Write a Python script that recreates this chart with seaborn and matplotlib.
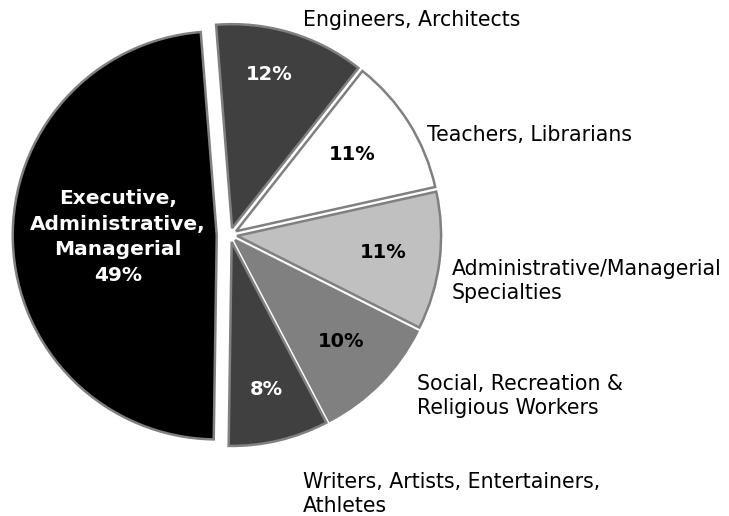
import matplotlib
matplotlib.use("Agg")
import matplotlib.pyplot as plt
import seaborn as sns

sns.set_theme(style="white")
plt.rcParams["font.family"] = ["DejaVu Sans"]

# Occupational groups, shares in percent (counter-clockwise from the top)
categories = [
    "Executive,\nAdministrative,\nManagerial",
    "Writers, Artists, Entertainers,\nAthletes",
    "Social, Recreation &\nReligious Workers",
    "Administrative/Managerial\nSpecialties",
    "Teachers, Librarians",
    "Engineers, Architects",
]
shares = [49, 8, 10, 11, 11, 12]

fills = ["#000000", "#404040", "#808080", "#c0c0c0", "#ffffff", "#404040"]
pct_colors = ["white", "white", "black", "black", "black", "white"]
explode = [0.065, 0.035, 0.035, 0.035, 0.035, 0.035]

# Label placement in pixels (x from left, y from top) on a 729x516 canvas
outer_pos = [None, (303, 494), (417, 396), (452, 281), (427, 135), (303, 20)]
inner_pos = [(118, 237), (266, 390), (341, 342), (383, 253), (352, 155), (269, 75)]

W, H = 729, 516
R = 204.0            # pixels per data unit (pie radius)
CX, CY = 230, 235    # pie centre in pixels

def to_data(p):
    return ((p[0] - CX) / R, (CY - p[1]) / R)

fig = plt.figure(figsize=(W / 100, H / 100), dpi=100)
ax = fig.add_axes([0, 0, 1, 1])
ax.pie(
    shares,
    colors=fills,
    explode=explode,
    startangle=94.5,
    counterclock=True,
    radius=1.0,
    wedgeprops=dict(edgecolor="#808080", linewidth=1.8),
)
ax.set_xlim(-CX / R, (W - CX) / R)
ax.set_ylim(-(H - CY) / R, CY / R)
ax.set_aspect("equal")
ax.axis("off")

for i, (cat, v) in enumerate(zip(categories, shares)):
    x, y = to_data(inner_pos[i])
    if i == 0:
        txt = f"{cat}\n{v}%"
        ax.text(x, y, txt, ha="center", va="center", color=pct_colors[i],
                fontsize=14.5, fontweight="bold", linespacing=1.45)
    else:
        ax.text(x, y, f"{v}%", ha="center", va="center", color=pct_colors[i],
                fontsize=14, fontweight="bold")
    if outer_pos[i] is not None:
        ox, oy = to_data(outer_pos[i])
        ax.text(ox, oy, cat, ha="left", va="center", color="black",
                fontsize=14.8, linespacing=1.22)

fig.savefig("out.png", dpi=100, facecolor="white")
